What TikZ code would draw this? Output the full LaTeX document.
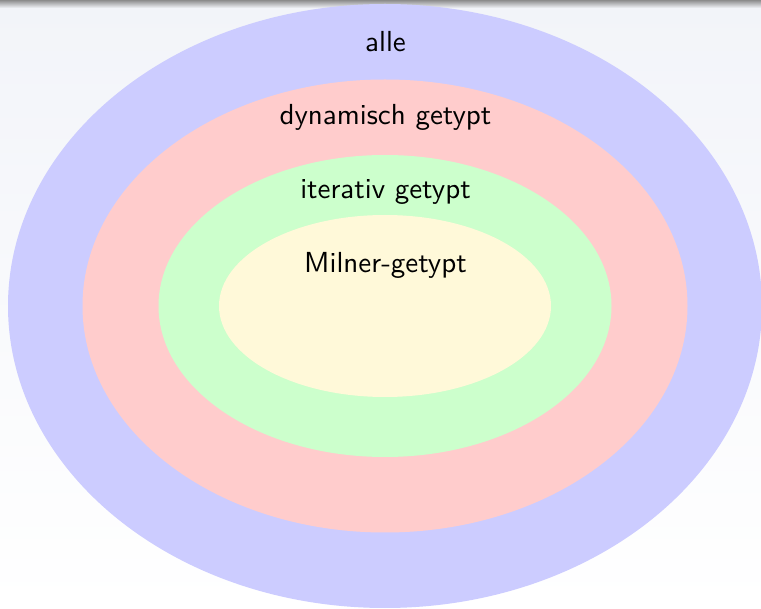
\documentclass[tikz,border=0pt]{standalone}
\usepackage{tikz}
\definecolor{bgtop}{RGB}{242,244,249}
\definecolor{setblue}{RGB}{204,204,255}
\definecolor{setred}{RGB}{255,204,204}
\definecolor{setgreen}{RGB}{204,255,204}
\definecolor{setyellow}{RGB}{255,249,217}
\tikzset{
  setlabel/.style={anchor=base, inner sep=0pt, scale=2.9,
    font=\sffamily\fontsize{10}{12}\selectfont}
}
\begin{document}
\begin{tikzpicture}[x=1pt, y=-1pt]
  % page background with the slide's soft gradient
  \useasboundingbox (0,0) rectangle (761,609);
  \shade[top color=bgtop, bottom color=white] (0,0) rectangle (761,609);
  \shade[top color=black!45, bottom color=bgtop] (0,0) rectangle (761,8);
  % nested type classes
  \fill[setblue]   (385,306) ellipse [x radius=377, y radius=302];
  \fill[setred]    (385,306) ellipse [x radius=302.5, y radius=226.5];
  \fill[setgreen]  (385,306) ellipse [x radius=226.5, y radius=151];
  \fill[setyellow] (385,306) ellipse [x radius=166, y radius=91];
  % labels
  \node[setlabel] (alle) at (385.5,52) {alle};
  \node[setlabel] (dyn) at (385.5,125) {dynamisch getypt};
  \node[setlabel] (iter) at (385.5,199) {iterativ getypt};
  \node[setlabel] (miln) at (385.5,273) {Milner-getypt};
\end{tikzpicture}
\end{document}
